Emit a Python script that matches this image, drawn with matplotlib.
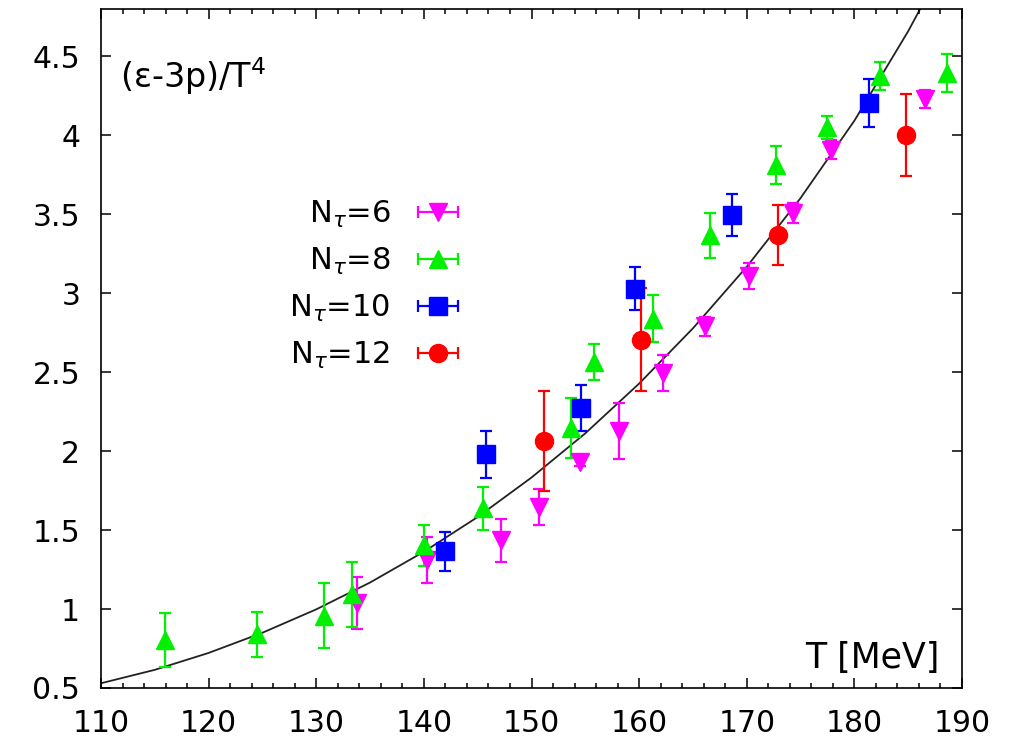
import matplotlib
matplotlib.use('Agg')
import matplotlib.pyplot as plt
import numpy as np
from matplotlib.container import ErrorbarContainer
from matplotlib.collections import LineCollection
from matplotlib.lines import Line2D
from matplotlib.legend_handler import HandlerErrorbar

plt.rcParams['font.family'] = ['DejaVu Sans']
plt.rcParams['mathtext.fontset'] = 'dejavusans'

# trace anomaly for the different temporal extents
T6 = [133.8, 140.3, 147.2, 150.7, 154.5, 158.1, 162.2, 166.1, 170.2, 174.3, 177.8, 186.6]
I6 = [1.037, 1.311, 1.436, 1.647, 1.934, 2.13, 2.494, 2.79, 3.11, 3.51, 3.91, 4.23]
E6 = [0.163, 0.148, 0.136, 0.114, 0.03, 0.178, 0.116, 0.06, 0.08, 0.063, 0.06, 0.055]

T8 = [115.9, 124.5, 130.7, 133.3, 140.0, 145.5, 153.7, 155.8, 161.3, 166.6, 172.7, 177.5, 182.4, 188.6]
I8 = [0.804, 0.841, 0.959, 1.094, 1.403, 1.638, 2.146, 2.563, 2.84, 3.366, 3.81, 4.05, 4.374, 4.395]
E8 = [0.169, 0.143, 0.204, 0.206, 0.13, 0.138, 0.19, 0.115, 0.15, 0.143, 0.12, 0.07, 0.089, 0.122]

T10 = [142.0, 145.8, 154.6, 159.6, 168.6, 181.4]
I10 = [1.367, 1.98, 2.273, 3.03, 3.495, 4.206]
E10 = [0.124, 0.15, 0.143, 0.136, 0.135, 0.154]

T12 = [151.2, 160.2, 172.9, 184.8]
I12 = [2.063, 2.705, 3.37, 4.0]
E12 = [0.315, 0.327, 0.19, 0.26]

# fit curve
T_fit = [110, 115, 120, 125, 130, 135, 140, 145, 150, 155, 160, 165, 170, 175, 180, 185, 186.5]
I_fit = [0.53, 0.615, 0.722, 0.85, 0.998, 1.168, 1.363, 1.583, 1.833, 2.113,
         2.428, 2.778, 3.168, 3.603, 4.093, 4.66, 4.85]

sets = [
    (T6, I6, E6, 'v', '#ff00ff', r'N$_\tau$=6'),
    (T8, I8, E8, '^', '#00f000', r'N$_\tau$=8'),
    (T10, I10, E10, 's', '#0000ff', r'N$_\tau$=10'),
    (T12, I12, E12, 'o', '#ff0000', r'N$_\tau$=12'),
]

fig = plt.figure(figsize=(10.1, 7.42), dpi=100)
ax = fig.add_axes([0.1, 0.0728, 0.8525, 0.915])

ax.plot(T_fit, I_fit, color='#222222', lw=1.3, zorder=1)

handles = []
labels = []
for T, I, E, m, c, lab in sets:
    ax.errorbar(T, I, yerr=E, fmt=m, color=c, ms=13, elinewidth=1.6,
                capsize=4, capthick=1.6, zorder=3)
    mk = Line2D([], [], color=c, marker=m, ms=13, linestyle='none')
    cap = Line2D([], [], color=c, marker='|', ms=8, mew=1.6, linestyle='none')
    bar = LineCollection([], colors=c, linewidths=1.6)
    handles.append(ErrorbarContainer((mk, (cap,), (bar,)), has_xerr=True, has_yerr=False))
    labels.append(lab)

ax.legend(handles, labels, loc='upper right', bbox_to_anchor=(0.418, 0.721),
          markerfirst=False, frameon=False, fontsize=22, numpoints=1,
          handlelength=1.5, handletextpad=0.8, labelspacing=0.52,
          borderpad=0, borderaxespad=0,
          handler_map={ErrorbarContainer: HandlerErrorbar(xerr_size=0.66)})

ax.set_xlim(110, 190)
ax.set_ylim(0.5, 4.8)
ax.set_xticks(np.arange(110, 191, 10))
ax.set_xticks(np.arange(110, 191, 2), minor=True)
ax.set_yticks([0.5, 1, 1.5, 2, 2.5, 3, 3.5, 4, 4.5])
ax.set_yticklabels(['0.5', '1', '1.5', '2', '2.5', '3', '3.5', '4', '4.5'])
ax.tick_params(which='both', direction='in', top=True, right=True, width=1.1)
ax.tick_params(which='major', length=7, labelsize=21.5, pad=15)
ax.tick_params(which='minor', length=3.5)
for s in ax.spines.values():
    s.set_linewidth(1.2)

ax.text(0.022, 0.883, '(ε-3p)/T$^4$', transform=ax.transAxes, fontsize=24,
        ha='left', va='baseline')
ax.text(0.974, 0.029, 'T [MeV]', transform=ax.transAxes, fontsize=25,
        ha='right', va='baseline')

fig.savefig('out.png', dpi=100)
